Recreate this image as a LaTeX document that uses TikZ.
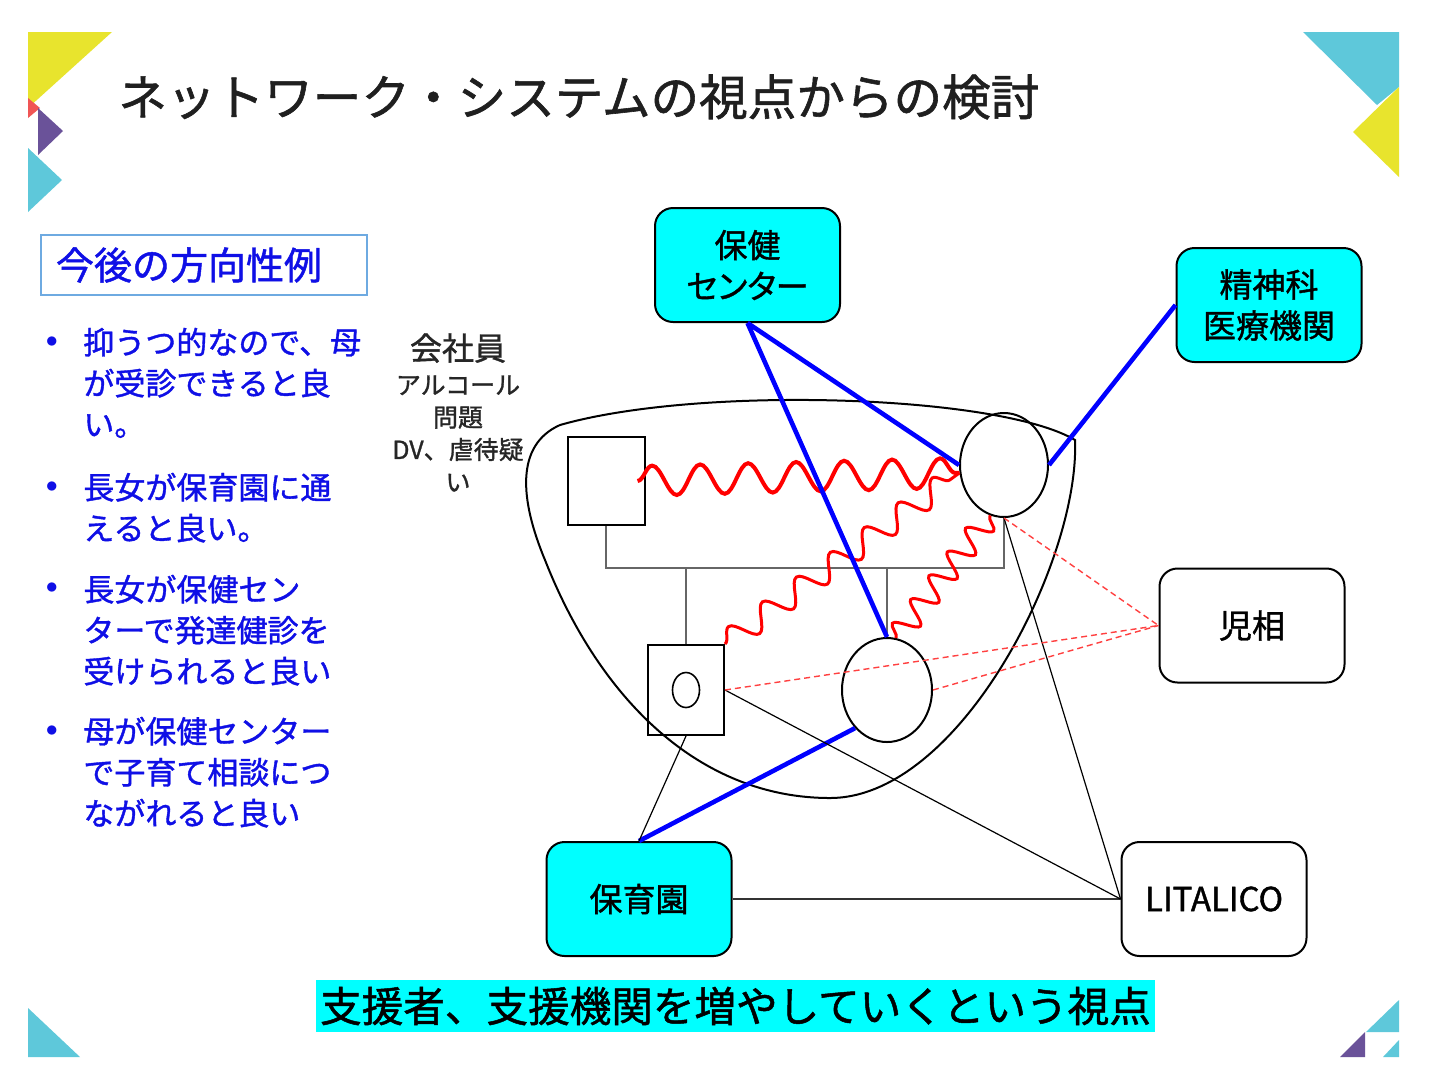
\documentclass[tikz,border=0pt]{standalone}
\usepackage{fontspec}
\setmainfont[RawFeature={embolden=1.2}]{Noto Sans CJK JP}
\newfontfamily\propfont[RawFeature={+palt;embolden=1.2}]{Noto Sans CJK JP}
\usetikzlibrary{shapes.geometric,decorations.pathmorphing}
\definecolor{aqua}{RGB}{0,255,255}
\definecolor{ink}{RGB}{15,15,230}
\definecolor{frameblue}{RGB}{110,170,225}
\definecolor{decoyellow}{RGB}{232,228,45}
\definecolor{decocyan}{RGB}{94,200,218}
\definecolor{decopurple}{RGB}{106,82,153}
\definecolor{decored}{RGB}{240,85,85}
\definecolor{kin}{gray}{0.4}
\begin{document}
\begin{tikzpicture}[x=0.5pt,y=-0.5pt,
	agency/.style={draw=black,line width=1pt,rounded corners=9pt,minimum width=92.5pt,minimum height=57pt,align=center,inner sep=0pt,font=\propfont\fontsize{16.5}{20.5}\selectfont},
	member/.style={draw=black,line width=1pt,inner sep=0pt},
	note/.style={text=ink,align=left,inner sep=0pt,font=\fontsize{15.5}{20.5}\selectfont},
	support/.style={blue,line width=2.3pt},
	tie/.style={black,line width=0.6pt},
	watch/.style={red!75,line width=0.7pt,dash pattern=on 3pt off 2pt},
	conflict/.style={red,decorate,decoration={snake,segment length=#1,amplitude=6pt}}]
\useasboundingbox (0,0) rectangle (1440,1089);
\fill[white] (0,0) rectangle (1440,1089);
% corner decorations
\fill[decoyellow] (28,32)--(112,32)--(28,108)--cycle;
\fill[decored] (28,98)--(40,108)--(28,118)--cycle;
\fill[decopurple] (38,108)--(63,131)--(38,155)--cycle;
\fill[decocyan] (28,148)--(62,180)--(28,212)--cycle;
\fill[decocyan] (1303,32)--(1399,32)--(1399,87)--(1377,105)--cycle;
\fill[decoyellow] (1399,87)--(1353,132)--(1399,177)--cycle;
\fill[decocyan] (28,1008)--(80,1057)--(28,1057)--cycle;
\fill[decocyan] (1399,1000)--(1399,1032)--(1366,1032)--cycle;
\fill[decopurple] (1365,1032)--(1365,1057)--(1340,1057)--cycle;
\fill[decocyan] (1399,1040)--(1399,1057)--(1383,1057)--cycle;

\node[anchor=west,inner sep=0pt,text=black!88,font=\fontsize{24.3}{28}\selectfont] (title) at (118,97) {ネットワーク・システムの視点からの検討};

% left column
\node[draw=frameblue,line width=1pt,anchor=west,text width=148pt,inner xsep=7.5pt,minimum height=30pt,align=left,text=ink,font=\fontsize{19}{22}\selectfont] (plan) at (40,265) {今後の方向性例};
\foreach \y/\n in {342/1,487/2,588/3,731/4}
	\node[text=ink,inner sep=0pt,font=\fontsize{12}{12}\selectfont] (dot\n) at (52,\y) {$\bullet$};
\node[note,anchor=base west] (tip1) at (83,436) {抑うつ的なので、母\\が受診できると良\\い。};
\node[note,anchor=base west] (tip2) at (83,540) {長女が保育園に通\\えると良い。};
\node[note,anchor=base west] (tip3) at (83,683) {長女が保健セン\\ターで発達健診を\\受けられると良い};
\node[note,anchor=base west] (tip4) at (83,825) {母が保健センター\\で子育て相談につ\\ながれると良い};

% family
\draw[line width=1pt] (1075,440) .. controls (1080,560) and (960,798) .. (830,798)
	.. controls (700,798) and (600,700) .. (545,560)
	.. controls (520,500) and (515,445) .. (560,425)
	.. controls (700,385) and (1000,395) .. (1075,440) -- cycle;
\node[inner sep=0pt,text=black!85,font=\fontsize{16}{18}\selectfont] (job) at (458,348) {会社員};
\node[inner sep=0pt,align=center,text=black!85,font=\fontsize{12.5}{16.2}\selectfont] (issue) at (458,433.5) {アルコール\\問題\\DV、虐待疑\\い};
\node[member,minimum width=38.5pt,minimum height=44pt] (father) at (606,481) {};
\node[member,ellipse,minimum width=44pt,minimum height=52pt] (mother) at (1004,465) {};
\node[member,ellipse,minimum width=45pt,minimum height=52pt] (dau) at (887,690) {};
\node[member,minimum width=38pt,minimum height=45pt] (son) at (686,690) {};
\node[member,ellipse,line width=0.8pt,minimum width=13.5pt,minimum height=17.5pt] (sonmark) at (son.center) {};
\coordinate (bar) at (800,568);
\draw[kin,line width=0.7pt] (father.south) |- (bar) -| (mother.south);
\draw[kin,line width=0.7pt] (son.north) -- (son.north |- bar);
\draw[kin,line width=0.7pt] (dau.north) -- (dau.north |- bar);

% agencies
\node[agency,fill=aqua] (hoken) at (747.5,265) {保健\\センター};
\node[agency,fill=aqua] (seishin) at (1269,305) {精神科\\医療機関};
\node[agency,fill=white] (jiso) at (1252,625.5) {児相};
\node[agency,fill=aqua] (hoiku) at (639,899) {保育園};
\node[agency,fill=white] (lit) at (1214,899) {LITALICO};

% links
\draw[conflict=24pt,line width=2pt,decoration={amplitude=7.5pt}] ([xshift=-4pt]father.east) -- (mother.190);
\draw[conflict=21pt,line width=1.5pt] (son.north east) -- (mother.190);
\draw[conflict=15pt,line width=1.5pt] (dau.80) -- (mother.255);
\draw[support] (hoken.south) -- (mother.west);
\draw[support] (hoken.south) -- (dau.north);
\draw[support] (seishin.west) -- (mother.east);
\draw[support] (hoiku.north) -- (dau.230);
\draw[tie] (son.south) -- (hoiku.north);
\draw[tie,line width=1.4pt,black!80] (hoiku.east) -- (lit.west);
\draw[tie] (son.east) -- (lit.west);
\draw[tie] (mother.south) -- (lit.west);
\draw[watch] (mother.south) -- (jiso.west);
\draw[watch] (son.east) -- (jiso.west);
\draw[watch] (dau.east) -- (jiso.west);

\node[fill=aqua,inner sep=0pt,minimum width=419.5pt,minimum height=26pt,font=\fontsize{20.8}{24}\selectfont] (banner) at (735.5,1006) {支援者、支援機関を増やしていくという視点};
\end{tikzpicture}
\end{document}
